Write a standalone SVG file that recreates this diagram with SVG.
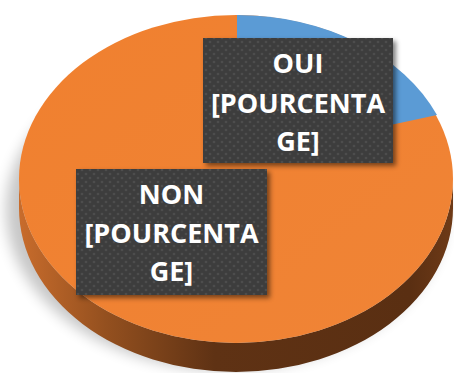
<svg xmlns="http://www.w3.org/2000/svg" width="454" height="373" viewBox="0 0 454 373">
<defs>
<style>
.lbl{font-family:"Open Sans","Liberation Sans",sans-serif;font-weight:bold;font-size:27px;fill:#ffffff;text-anchor:middle}
.box{fill:url(#dots)}
</style>
<pattern id="dots" width="8" height="8" patternUnits="userSpaceOnUse">
<rect width="8" height="8" fill="#3d3d3d"/>
<circle cx="2" cy="2" r="1.3" fill="#4d4d4d"/>
<circle cx="6" cy="6" r="1.3" fill="#4d4d4d"/>
</pattern>
<linearGradient id="side" x1="19" y1="0" x2="453" y2="0" gradientUnits="userSpaceOnUse">
<stop offset="0" stop-color="#c86c2c"/>
<stop offset="0.2" stop-color="#94501f"/>
<stop offset="0.45" stop-color="#5f3214"/>
<stop offset="0.9" stop-color="#5a2f12"/>
<stop offset="1" stop-color="#6e3a17"/>
</linearGradient>
<linearGradient id="top" x1="0" y1="0" x2="1" y2="1">
<stop offset="0" stop-color="#f0802f"/>
<stop offset="1" stop-color="#f08436"/>
</linearGradient>
<filter id="blur" x="-20%" y="-20%" width="140%" height="140%"><feGaussianBlur stdDeviation="7"/></filter>
<filter id="bshadow" x="-10%" y="-10%" width="130%" height="130%"><feGaussianBlur stdDeviation="2.5"/></filter>
</defs>
<g id="shadow">
<ellipse cx="226" cy="210" rx="220" ry="160" fill="#000" opacity="0.22" filter="url(#blur)"/>
</g>
<g id="pie">
<path d="M19,179 A217,164 0 0 0 453,179 L453,208 A217,164 0 0 1 19,208 Z" fill="url(#side)"/>
<ellipse cx="236" cy="179" rx="217" ry="164" fill="url(#top)"/>
<path id="oui-slice" d="M237,158 L237,15 A217,164 0 0 1 437,115 Z" fill="#5b9bd5"/>
</g>
<g id="label-oui">
<rect x="206" y="41" width="190" height="125" fill="#000" opacity="0.5" filter="url(#bshadow)"/>
<rect class="box" x="203" y="38" width="190" height="125"/>
<text class="lbl" x="298" y="73">OUI</text>
<text class="lbl" x="298" y="113">[POURCENTA</text>
<text class="lbl" x="298" y="151">GE]</text>
</g>
<g id="label-non">
<rect x="79" y="172" width="191" height="126" fill="#000" opacity="0.5" filter="url(#bshadow)"/>
<rect class="box" x="76" y="169" width="191" height="126"/>
<text class="lbl" x="171.5" y="204">NON</text>
<text class="lbl" x="171.5" y="243">[POURCENTA</text>
<text class="lbl" x="171.5" y="281">GE]</text>
</g>
<g id="connectors"/>
</svg>
